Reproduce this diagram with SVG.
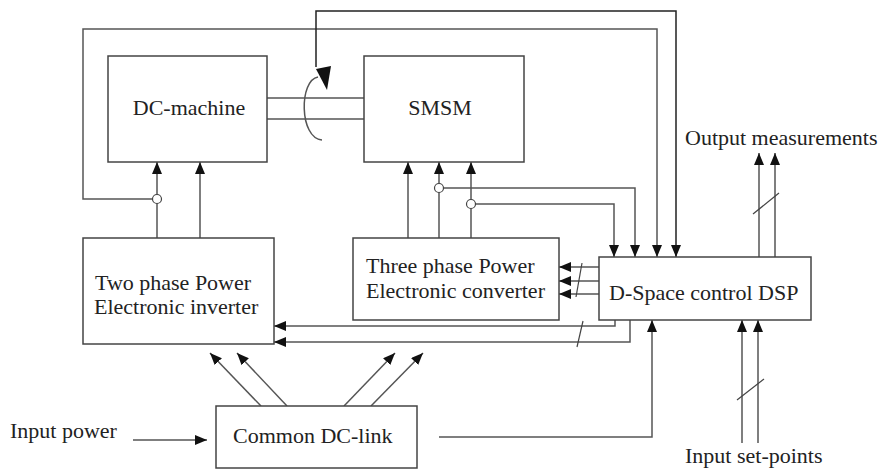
<svg xmlns="http://www.w3.org/2000/svg" width="882" height="470" viewBox="0 0 882 470">
<defs>
<style>
.box{fill:#fff;stroke:#444;stroke-width:1.5}
.ln{fill:none;stroke:#555;stroke-width:1.5}
.dk{fill:none;stroke:#222;stroke-width:1.5}
.sl{fill:none;stroke:#444;stroke-width:1.2}
.tx{font-family:"Liberation Serif","Times New Roman",serif;font-size:22px;fill:#222}
.ci{fill:#fff;stroke:#444;stroke-width:1.2}
</style>
<marker id="ah" markerUnits="userSpaceOnUse" markerWidth="14" markerHeight="12" refX="12" refY="5" orient="auto">
<path d="M0,0 L12,5 L0,10 z" fill="#111"/>
</marker>
</defs>
<rect width="882" height="470" fill="#fff"/>

<g id="connectors">
<!-- shaft -->
<line class="ln" x1="267" y1="98" x2="364" y2="98"/>
<line class="ln" x1="267" y1="119" x2="364" y2="119"/>
<!-- rotation -->
<path class="ln" d="M322,140 C299,138 299,80 318,77"/>
<path d="M316,69 L327,90 L331,66 z" fill="#111"/>
<!-- outer loop from DC machine current -->
<path class="ln" d="M152.5,199 H83 V29 H657 V257" marker-end="url(#ah)"/>
<!-- speed measurement -->
<path class="dk" d="M316,67 V11 H676 V257" marker-end="url(#ah)"/>
<!-- DC machine inputs -->
<line class="ln" x1="157" y1="238" x2="157" y2="162" marker-end="url(#ah)"/>
<line class="ln" x1="200" y1="238" x2="200" y2="162" marker-end="url(#ah)"/>
<circle class="ci" cx="157" cy="199" r="4.5"/>
<!-- SMSM inputs -->
<line class="ln" x1="408" y1="238" x2="408" y2="162" marker-end="url(#ah)"/>
<line class="ln" x1="439" y1="238" x2="439" y2="162" marker-end="url(#ah)"/>
<line class="ln" x1="471" y1="238" x2="471" y2="162" marker-end="url(#ah)"/>
<path class="ln" d="M443.5,188 H635 V257" marker-end="url(#ah)"/>
<path class="ln" d="M475.5,204 H614 V257" marker-end="url(#ah)"/>
<circle class="ci" cx="439" cy="188" r="4.5"/>
<circle class="ci" cx="471" cy="204" r="4.5"/>
<!-- DSP to three phase -->
<line class="ln" x1="599" y1="267" x2="559" y2="267" marker-end="url(#ah)"/>
<line class="ln" x1="599" y1="281" x2="559" y2="281" marker-end="url(#ah)"/>
<line class="ln" x1="599" y1="294" x2="559" y2="294" marker-end="url(#ah)"/>
<line class="sl" x1="576" y1="297" x2="582" y2="263"/>
<!-- DSP to two phase -->
<path class="ln" d="M615,320 V326 H274" marker-end="url(#ah)"/>
<path class="ln" d="M630,320 V342 H274" marker-end="url(#ah)"/>
<line class="sl" x1="577" y1="347" x2="583" y2="321"/>
<!-- output measurements -->
<line class="ln" x1="759" y1="257" x2="759" y2="153" marker-end="url(#ah)"/>
<line class="ln" x1="775" y1="257" x2="775" y2="153" marker-end="url(#ah)"/>
<line class="sl" x1="753" y1="214" x2="779" y2="193"/>
<!-- input set-points -->
<line class="ln" x1="742" y1="443" x2="742" y2="320" marker-end="url(#ah)"/>
<line class="ln" x1="758" y1="443" x2="758" y2="320" marker-end="url(#ah)"/>
<line class="sl" x1="737" y1="400" x2="764" y2="379"/>
<!-- DC link to DSP -->
<path class="ln" d="M439,437 H652 V320" marker-end="url(#ah)"/>
<!-- input power -->
<line class="ln" x1="133" y1="440" x2="207" y2="440" marker-end="url(#ah)"/>
<!-- DC link to inverters -->
<line class="ln" x1="261" y1="406" x2="210" y2="353" marker-end="url(#ah)"/>
<line class="ln" x1="287" y1="406" x2="237" y2="353" marker-end="url(#ah)"/>
<line class="ln" x1="344" y1="406" x2="395" y2="353" marker-end="url(#ah)"/>
<line class="ln" x1="371" y1="406" x2="423" y2="353" marker-end="url(#ah)"/>
</g>

<g id="dc-machine">
<rect class="box" x="108" y="56" width="159" height="106"/>
<text class="tx" x="189" y="115" text-anchor="middle">DC-machine</text>
</g>
<g id="smsm">
<rect class="box" x="364" y="56" width="160" height="106"/>
<text class="tx" x="440" y="115" text-anchor="middle">SMSM</text>
</g>
<g id="two-phase">
<rect class="box" x="83" y="238" width="191" height="106"/>
<text class="tx" x="95" y="290">Two phase Power</text>
<text class="tx" x="94" y="314">Electronic inverter</text>
</g>
<g id="three-phase">
<rect class="box" x="353" y="238" width="206" height="82"/>
<text class="tx" x="366" y="273">Three phase Power</text>
<text class="tx" x="366" y="298">Electronic converter</text>
</g>
<g id="dsp">
<rect class="box" x="599" y="257" width="212" height="63"/>
<text class="tx" x="609" y="300">D-Space control DSP</text>
</g>
<g id="dc-link">
<rect class="box" x="216" y="406" width="201" height="62"/>
<text class="tx" x="233" y="443">Common DC-link</text>
</g>
<g id="labels">
<text class="tx" x="10" y="438">Input power</text>
<text class="tx" x="685" y="145">Output measurements</text>
<text class="tx" x="685" y="463">Input set-points</text>
</g>
</svg>
